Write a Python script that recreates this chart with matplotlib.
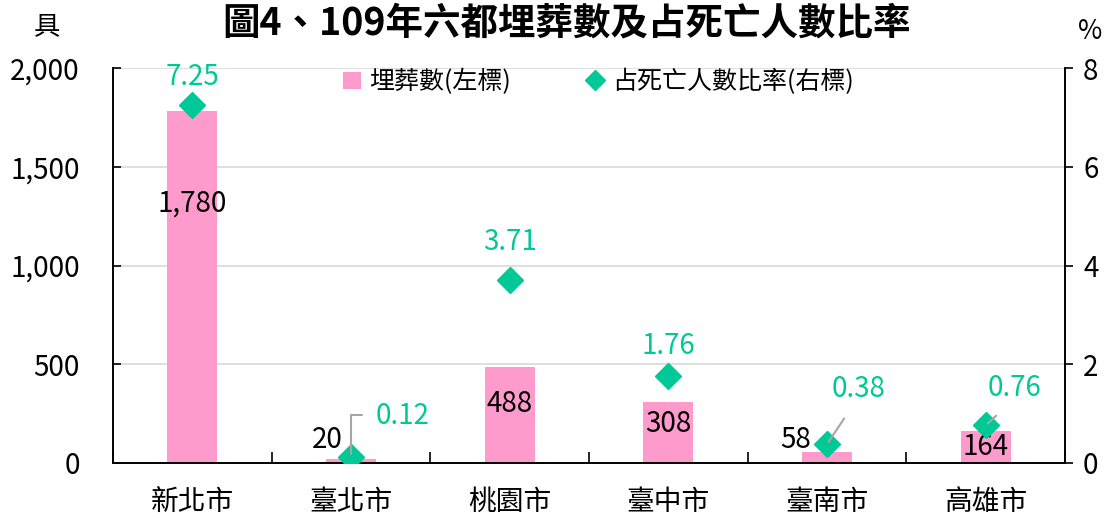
import numpy as np
import matplotlib.pyplot as plt

plt.rcParams['font.family'] = ['Noto Sans CJK TC', 'DejaVu Sans']

cities = ['新北市', '臺北市', '桃園市', '臺中市', '臺南市', '高雄市']
burials = [1780, 20, 488, 308, 58, 164]
ratio = [7.25, 0.12, 3.71, 1.76, 0.38, 0.76]
left_ticks = [0, 500, 1000, 1500, 2000]
right_ticks = [0, 2, 4, 6, 8]

pink = '#FF9ACC'
green = '#00C896'

# label offsets (pixels) - placed by hand like in the original
bar_off = [(0, -92), (-24, 19), (0, -37), (0, -22), (-31, 12), (0, -16)]
pct_off = [(0, 28), (52, 41), (0, 38), (0, 30), (32, 55), (29, 37)]

fig = plt.figure(figsize=(11.11, 5.18), dpi=100)
ax = fig.add_axes([0.1017, 0.1062, 0.8569, 0.7625])
ax2 = ax.twinx()

x = np.arange(len(cities))
ax.bar(x, burials, width=0.315, color=pink, zorder=2, label='埋葬數(左標)')
ax2.plot(x, ratio, linestyle='none', marker='D', markersize=13, color=green,
         zorder=3, label='占死亡人數比率(右標)')

ax.set_xlim(-0.5, len(cities) - 0.5)
ax.set_ylim(0, 2000)
ax2.set_ylim(0, 8)
ax.set_yticks(left_ticks)
ax.set_yticklabels([f'{v:,}' for v in left_ticks])
ax2.set_yticks(right_ticks)
ax.yaxis.grid(True, color='#D9D9D9', linewidth=1.2, zorder=0)
ax.set_axisbelow(True)

ax.set_xticks(x)
ax.set_xticklabels(cities)
ax.set_xticks(np.arange(-0.5, len(cities)), minor=True)
ax.tick_params(axis='x', which='major', length=0, pad=17, labelsize=20)
ax.tick_params(axis='x', which='minor', direction='in', length=8, width=1.2)
ax.tick_params(axis='y', direction='in', length=6, width=1.2, pad=24, labelsize=20)
ax2.tick_params(axis='y', direction='out', length=6, width=1.2, pad=7, labelsize=20)

for a in (ax, ax2):
    a.spines['top'].set_visible(False)
    for s in ('left', 'right', 'bottom'):
        a.spines[s].set_linewidth(1.2)
        a.spines[s].set_color('black')

for i, v in enumerate(burials):
    ax.annotate(f'{v:,}', (x[i], v), xytext=bar_off[i], textcoords='offset pixels',
                ha='center', va='center', fontsize=20, color='black', zorder=5)

for i, v in enumerate(ratio):
    arrow = None
    if i == 1:
        arrow = dict(arrowstyle='-', color='#A6A6A6', lw=1.5, relpos=(0, 0.55),
                     shrinkA=8, shrinkB=2, connectionstyle='angle,angleA=0,angleB=90,rad=0')
    elif i in (4, 5):
        arrow = dict(arrowstyle='-', color='#A6A6A6', lw=1.5, relpos=(0.4, 0),
                     shrinkA=10, shrinkB=2)
    ax2.annotate(f'{v:.2f}', (x[i], v), xytext=pct_off[i], textcoords='offset pixels',
                 ha='center', va='center', fontsize=20, color=green, zorder=5,
                 arrowprops=arrow)

h1, l1 = ax.get_legend_handles_labels()
h2, l2 = ax2.get_legend_handles_labels()
ax.legend(h1 + h2, l1 + l2, loc='upper center', bbox_to_anchor=(0.51, 1.055), ncol=2,
          frameon=False, fontsize=18, handlelength=0.7, handletextpad=0.35,
          columnspacing=3.0, markerscale=0.75)

fig.text(0.51, 0.955, '圖4、109年六都埋葬數及占死亡人數比率', ha='center', va='center',
         fontsize=27, fontweight='bold')
fig.text(0.042, 0.948, '具', ha='center', va='center', fontsize=19)
fig.text(0.981, 0.94, '%', ha='center', va='center', fontsize=19)

fig.savefig('out.png', dpi=100)
